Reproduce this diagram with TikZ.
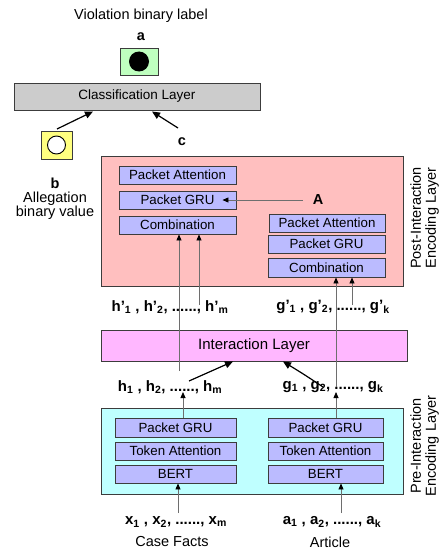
\documentclass[tikz,border=0pt]{standalone}
\usepackage{fontspec}
\setmainfont{Liberation Sans}
\usetikzlibrary{arrows.meta}
\definecolor{pinkbg}{RGB}{255,191,191}
\definecolor{lav}{RGB}{187,187,255}
\definecolor{interc}{RGB}{255,183,255}
\definecolor{cyanbg}{RGB}{191,255,255}
\definecolor{greenb}{RGB}{191,255,191}
\definecolor{yellowb}{RGB}{255,255,128}
\definecolor{grayb}{RGB}{204,204,204}
\definecolor{edge}{RGB}{60,60,60}
\definecolor{linec}{RGB}{110,110,110}
\tikzset{
  frame/.style={draw=edge, line width=0.9pt, inner sep=0pt},
  sub/.style={frame, fill=lav, font=\fontsize{13.3}{13.3}\selectfont},
  lbl/.style={inner sep=0pt, font=\fontsize{14.5}{14.5}\selectfont},
  seq/.style={inner sep=0pt, font=\bfseries\fontsize{15}{15}\selectfont},
  vline/.style={draw=linec, line width=0.8pt, -{Triangle[length=6pt,width=5pt,color=black]}},
  darr/.style={draw=black, line width=1.2pt, -{Triangle[length=8pt,width=7pt]}},
}
\begin{document}
\begin{tikzpicture}[x=1pt,y=-1pt]
\useasboundingbox (0,0) rectangle (447,551);
% top
\node[lbl] (viol) at (141,16) {Violation binary label};
\node[lbl, font=\bfseries\fontsize{14.5}{14.5}\selectfont] (la) at (141,37) {a};
\node[frame, fill=greenb, minimum width=38pt, minimum height=27pt] (gbox) at (139,61.5) {};
\fill (gbox.center) circle (10pt);
\node[frame, fill=grayb, minimum width=246pt, minimum height=27pt, font=\fontsize{13.5}{13.5}\selectfont] (cls) at (137,96.5) {Classification Layer};
\node[frame, fill=yellowb, minimum width=31pt, minimum height=28pt] (ybox) at (56.5,145) {};
\draw[fill=white, draw=black, line width=0.9pt] (ybox.center) circle (9pt);
\node[lbl, align=center, font=\fontsize{14.5}{13.5}\selectfont] (lb) at (55,199) {\textbf{b}\\Allegation\\binary value};
\coordinate (clsin1) at (93,111.5);
\coordinate (clsin2) at (152,111.5);
\coordinate (ystart) at (57,129);
\coordinate (cstart) at (178,128);
\node[lbl, font=\bfseries\fontsize{14.5}{14.5}\selectfont] (lc) at (182,142) {c};
\draw[darr] (ystart) -- (clsin1);
\draw[darr] (cstart) -- (clsin2);
% post-interaction
\node[frame, fill=pinkbg, minimum width=302pt, minimum height=130pt] (post) at (252,221) {};
\node[sub, minimum width=117pt, minimum height=18pt] (lpa) at (177.5,175) {Packet Attention};
\node[sub, minimum width=117pt, minimum height=18pt] (lpg) at (177.5,200) {Packet GRU};
\node[sub, minimum width=117pt, minimum height=18pt] (lcb) at (177.5,225) {Combination};
\node[sub, minimum width=116pt, minimum height=18pt] (rpa) at (327,223) {Packet Attention};
\node[sub, minimum width=117pt, minimum height=18pt] (rpg) at (326.5,244) {Packet GRU};
\node[sub, minimum width=117pt, minimum height=19pt] (rcb) at (326.5,267.5) {Combination};
\node[lbl, font=\bfseries\fontsize{14.5}{14.5}\selectfont] (lA) at (318,200) {A};
\draw[vline] (lA.west) ++(-10pt,0) -- ([xshift=-14pt]lpg.east);
\node[lbl, rotate=90, align=center, font=\fontsize{14.5}{15}\selectfont] (postlbl) at (424.5,218) {Post-Interaction\\Encoding Layer};
% sequences
\node[seq] (hp) at (170,307) {h’\textsubscript{1} , h’\textsubscript{2}, ......, h’\textsubscript{m}};
\node[seq] (gp) at (333,307) {g’\textsubscript{1} , g’\textsubscript{2}, ......, g’\textsubscript{k}};
\node[frame, fill=interc, minimum width=306pt, minimum height=31pt, font=\fontsize{15}{15}\selectfont] (inter) at (254,345.5) {Interaction Layer};
\node[seq] (h) at (170,387) {h\textsubscript{1} , h\textsubscript{2}, ......, h\textsubscript{m}};
\node[seq] (g) at (333,387) {g\textsubscript{1} , g\textsubscript{2}, ......, g\textsubscript{k}};
% vertical lines to combination
\coordinate (h1s) at (179,371);
\coordinate (h2s) at (199,305);
\coordinate (g1s) at (336,387);
\coordinate (g2s) at (352,305);
\draw[vline] (h1s) -- (h1s |- lcb.south);
\draw[vline] (h2s) -- (h2s |- lcb.south);
\draw[vline] (g1s) -- (g1s |- rcb.south);
\draw[vline] (g2s) -- (g2s |- rcb.south);
% diagonal to interaction
\coordinate (hstart) at (189,381);
\coordinate (gstart) at (323,387);
\draw[darr] (hstart) -- ([xshift=-21pt]inter.south);
\draw[darr] (gstart) .. controls (305,375) .. ([xshift=29pt]inter.south);
% pre-interaction
\node[frame, fill=cyanbg, minimum width=302pt, minimum height=86pt] (pre) at (252,451) {};
\node[sub, minimum width=121pt, minimum height=19pt] (lpg2) at (175.5,427.5) {Packet GRU};
\node[sub, minimum width=121pt, minimum height=18pt] (lta) at (175.5,451) {Token Attention};
\node[sub, minimum width=121pt, minimum height=18pt] (lbert) at (175.5,474) {BERT};
\node[sub, minimum width=115pt, minimum height=19pt] (rpg2) at (325.5,427.5) {Packet GRU};
\node[sub, minimum width=115pt, minimum height=18pt] (rta) at (325.5,451) {Token Attention};
\node[sub, minimum width=115pt, minimum height=18pt] (rbert) at (325.5,474) {BERT};
\node[lbl, rotate=90, align=center, font=\fontsize{14.5}{15}\selectfont] (prelbl) at (424.5,446) {Pre-Interaction\\Encoding Layer};
\coordinate (hin) at (183,392);
\coordinate (gin) at (336,392);
\draw[vline] (hin |- lpg2.north) -- (hin);
\draw[vline] (gin |- rpg2.north) -- (gin);
% inputs
\node[seq] (xs) at (176,522) {x\textsubscript{1} , x\textsubscript{2}, ......, x\textsubscript{m}};
\node[seq] (as) at (332,522) {a\textsubscript{1} , a\textsubscript{2}, ......, a\textsubscript{k}};
\node[lbl] (cf) at (172,542) {Case Facts};
\node[lbl] (art) at (330,542) {Article};
\coordinate (xin) at (178,513);
\coordinate (ain) at (341,513);
\draw[vline] (xin) -- (xin |- lbert.south);
\draw[vline] (ain) -- (ain |- rbert.south);
\end{tikzpicture}
\end{document}
